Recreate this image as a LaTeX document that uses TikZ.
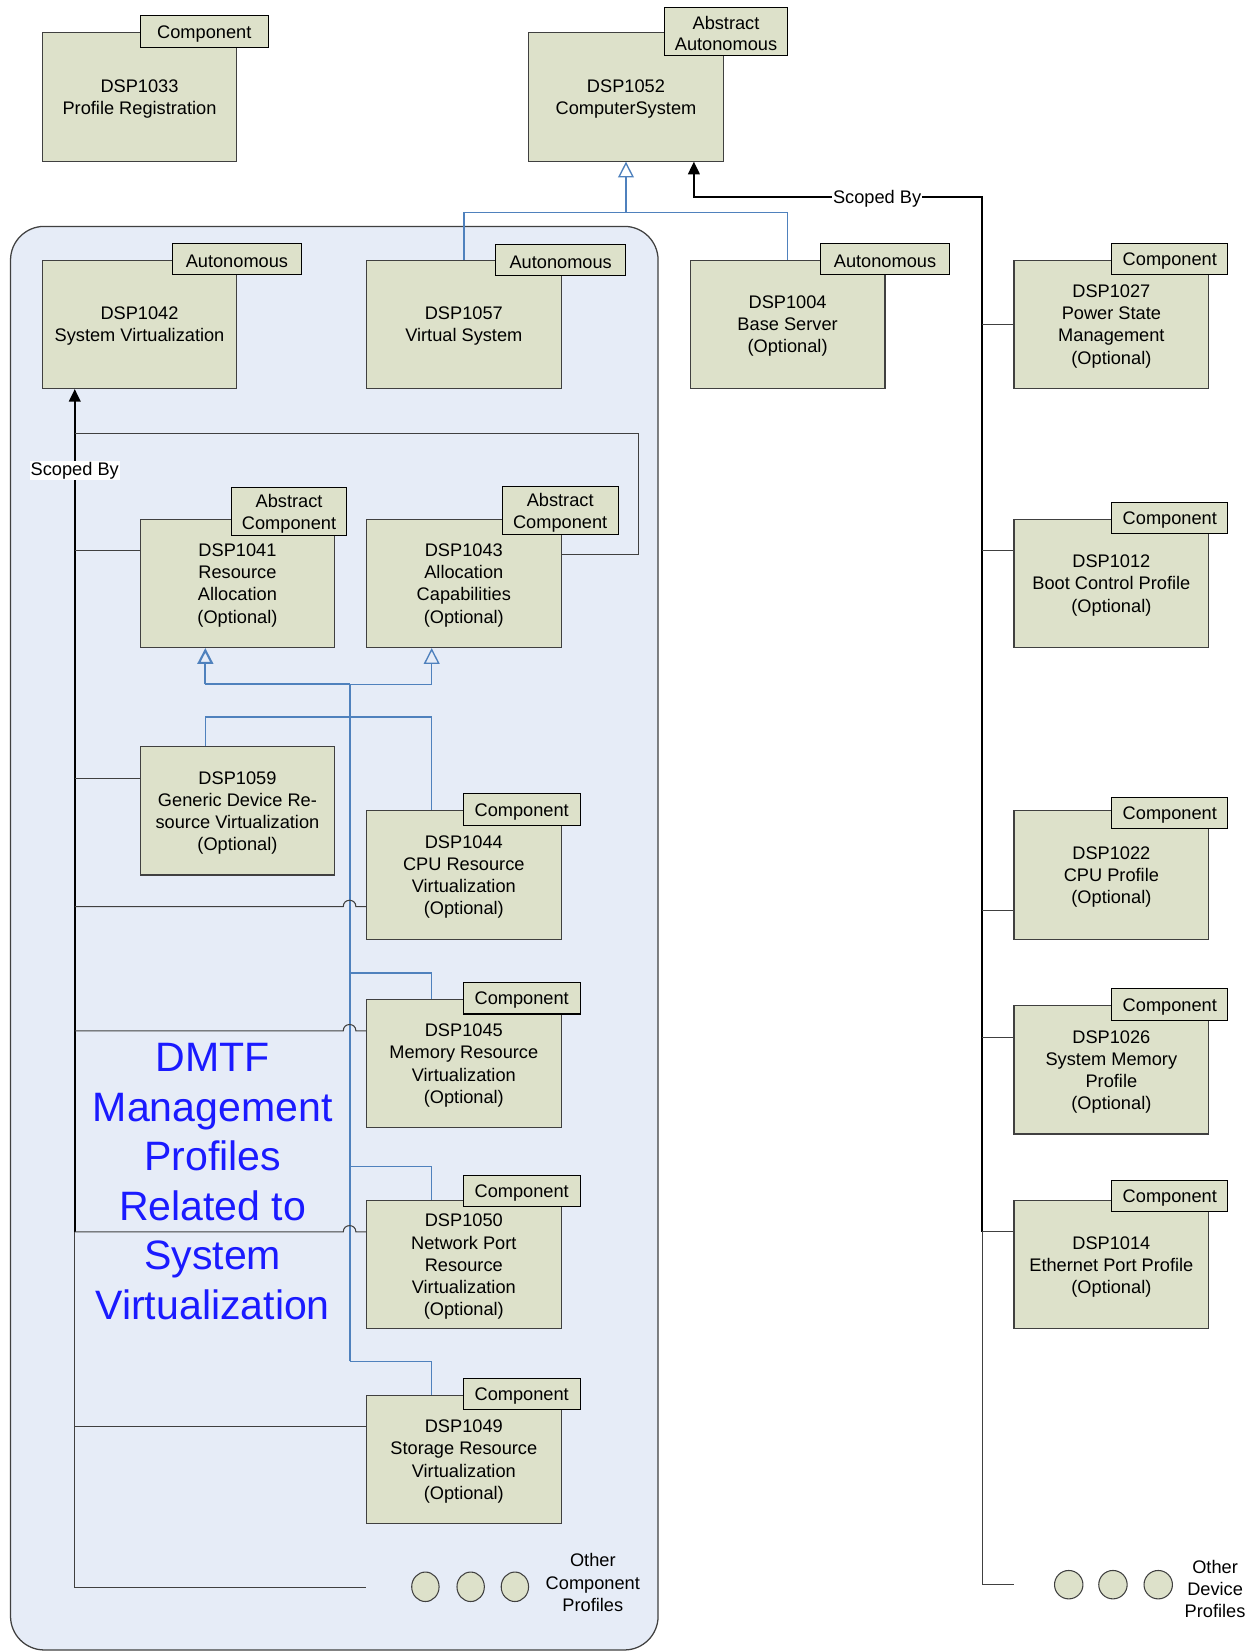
\documentclass[tikz,border=0pt]{standalone}
\usepackage{fontspec}
\setmainfont{Liberation Sans}
\usetikzlibrary{arrows.meta,shapes.geometric,backgrounds}
\definecolor{boxfill}{HTML}{DDE1CA}
\definecolor{contfill}{HTML}{E6ECF7}
\definecolor{inhblue}{HTML}{4F81BD}
\definecolor{bigblue}{HTML}{1A1AFF}
\definecolor{edgegray}{HTML}{404040}
\begin{document}
\begin{tikzpicture}[x=1pt,y=-1pt,
  profbox/.style={draw=edgegray, fill=boxfill, line width=1pt, minimum width=185pt, minimum height=122pt, inner sep=0pt},
  boxtext/.style={inner sep=0pt, align=center, font=\fontsize{17.3}{21}\selectfont, yshift=-2pt},
  tagbox/.style={draw=black, fill=boxfill, line width=1pt, inner sep=0pt, minimum height=30pt, minimum width=#1},
  tagtwo/.style={tagbox=#1, minimum height=46pt},
  tagtext/.style={inner sep=0pt, align=center, font=\fontsize{17.3}{20.5}\selectfont, yshift=-2pt},
  dotnode/.style={ellipse, draw=edgegray, fill=boxfill, line width=1pt, minimum width=26pt, minimum height=28pt, inner sep=0pt},
  lbl/.style={fill=white, inner sep=1pt, font=\fontsize{17.3}{21}\selectfont},
  plain/.style={inner sep=0pt, align=center, font=\fontsize{17.3}{21}\selectfont, yshift=-1pt},
  inh/.style={draw=inhblue, line width=1.3pt},
  inharrow/.style={inh, -{Triangle[open, length=15pt, width=15pt]}},
  scopeline/.style={draw=black, line width=2pt},
  scopearrow/.style={scopeline, -{Triangle[length=12pt, width=11pt]}},
  branch/.style={draw=edgegray, line width=1pt}
]
\useasboundingbox (0,0) rectangle (1192,1568);

% ---- boxes
\node[profbox] (b1033) at (132.5,92) {};
\node[boxtext] (x1033) at (b1033) {DSP1033\\Profile Registration};
\node[profbox] (b1052) at (594.5,92) {};
\node[boxtext] (x1052) at (b1052) {DSP1052\\ComputerSystem};
\node[profbox] (b1042) at (132.5,308) {};
\node[boxtext] (x1042) at (b1042) {DSP1042\\System Virtualization};
\node[profbox] (b1057) at (440.5,308) {};
\node[boxtext] (x1057) at (b1057) {DSP1057\\Virtual System};
\node[profbox] (b1004) at (748,308) {};
\node[boxtext] (x1004) at (b1004) {DSP1004\\Base Server\\(Optional)};
\node[profbox] (b1027) at (1055.5,308) {};
\node[boxtext] (x1027) at (b1027) {DSP1027\\Power State\\Management\\(Optional)};
\node[profbox] (b1012) at (1055.5,554) {};
\node[boxtext] (x1012) at (b1012) {DSP1012\\Boot Control Profile\\(Optional)};
\node[profbox] (b1022) at (1055.5,831) {};
\node[boxtext] (x1022) at (b1022) {DSP1022\\CPU Profile\\(Optional)};
\node[profbox] (b1026) at (1055.5,1016) {};
\node[boxtext] (x1026) at (b1026) {DSP1026\\System Memory\\Profile\\(Optional)};
\node[profbox] (b1014) at (1055.5,1201) {};
\node[boxtext] (x1014) at (b1014) {DSP1014\\Ethernet Port Profile\\(Optional)};
\node[profbox] (b1041) at (225.5,554) {};
\node[boxtext] (x1041) at (b1041) {DSP1041\\Resource\\Allocation\\(Optional)};
\node[profbox] (b1043) at (440.5,554) {};
\node[boxtext] (x1043) at (b1043) {DSP1043\\Allocation\\Capabilities\\(Optional)};
\node[profbox] (b1059) at (225.5,770) {};
\node[boxtext] (x1059) at (b1059) {DSP1059\\Generic Device Re-\\source Virtualization\\(Optional)};
\node[profbox] (b1044) at (440.5,831) {};
\node[boxtext] (x1044) at (b1044) {DSP1044\\CPU Resource\\Virtualization\\(Optional)};
\node[profbox] (b1045) at (440.5,1010) {};
\node[boxtext] (x1045) at (b1045) {DSP1045\\Memory Resource\\Virtualization\\(Optional)};
\node[profbox] (b1050) at (440.5,1201) {};
\node[boxtext] (x1050) at (b1050) {DSP1050\\Network Port\\Resource\\Virtualization\\(Optional)};
\node[profbox] (b1049) at (440.5,1386) {};
\node[boxtext] (x1049) at (b1049) {DSP1049\\Storage Resource\\Virtualization\\(Optional)};

% ---- tags
\node[tagbox=122pt] (t1033) at (194,30) {};
\node[tagtext] (u1033) at (t1033) {Component};
\node[tagtwo=117pt] (t1052) at (689.5,30) {};
\node[tagtext] (u1052) at (t1052) {Abstract\\Autonomous};
\node[tagbox=122pt] (t1042) at (225,246) {};
\node[tagtext] (u1042) at (t1042) {Autonomous};
\node[tagbox=123pt] (t1057) at (532.5,247) {};
\node[tagtext] (u1057) at (t1057) {Autonomous};
\node[tagbox=123pt] (t1004) at (840.5,246) {};
\node[tagtext] (u1004) at (t1004) {Autonomous};
\node[tagbox=110pt] (t1027) at (1111,246) {};
\node[tagtext] (u1027) at (t1027) {Component};
\node[tagbox=110pt] (t1012) at (1111,492) {};
\node[tagtext] (u1012) at (t1012) {Component};
\node[tagbox=110pt] (t1022) at (1111,772) {};
\node[tagtext] (u1022) at (t1022) {Component};
\node[tagbox=110pt] (t1026) at (1111,954) {};
\node[tagtext] (u1026) at (t1026) {Component};
\node[tagbox=110pt] (t1014) at (1111,1136) {};
\node[tagtext] (u1014) at (t1014) {Component};
\node[tagtwo=109pt] (t1041) at (274.5,486) {};
\node[tagtext] (u1041) at (t1041) {Abstract\\Component};
\node[tagtwo=110pt] (t1043) at (532,485) {};
\node[tagtext] (u1043) at (t1043) {Abstract\\Component};
\node[tagbox=111pt] (t1044) at (495.5,769) {};
\node[tagtext] (u1044) at (t1044) {Component};
\node[tagbox=111pt] (t1045) at (495.5,948) {};
\node[tagtext] (u1045) at (t1045) {Component};
\node[tagbox=111pt] (t1050) at (495.5,1131) {};
\node[tagtext] (u1050) at (t1050) {Component};
\node[tagbox=111pt] (t1049) at (495.5,1324) {};
\node[tagtext] (u1049) at (t1049) {Component};

% ---- other profiles
\node[dotnode] (oc1) at (404,1507) {};
\node[dotnode] (oc2) at (447,1507) {};
\node[dotnode] (oc3) at (489,1507) {};
\node[plain] (ocl) at (563,1502) {Other\\Component\\Profiles};
\node[dotnode, minimum width=27pt, minimum height=27pt] (od1) at (1015,1505) {};
\node[dotnode, minimum width=27pt, minimum height=27pt] (od2) at (1057,1505) {};
\node[dotnode, minimum width=27pt, minimum height=27pt] (od3) at (1100,1505) {};
\node[plain] (odl) at (1154,1508) {Other\\Device\\Profiles};

\begin{scope}[on background layer]
% container
\draw[draw=edgegray, fill=contfill, line width=1.2pt, rounded corners=32pt] (10,215) rectangle (625,1567);

% big caption
\node[inner sep=0pt, align=center, text=bigblue, font=\fontsize{39}{47}\selectfont] (caption) at (202,1122) {DMTF\\Management\\Profiles\\Related to\\System\\Virtualization};

% ---- inheritance (blue)
\coordinate (jt) at (594.5,202);
\draw[inh] (b1057.north) |- (jt);
\draw[inh] (b1004.north) |- (jt);
\draw[inharrow] (jt) -- (b1052.south);

\coordinate (h1) at (195,650);
\coordinate (h2) at (410,650);
\coordinate (sp1) at (332,650);
\coordinate (sp2) at (332,1293);
\coordinate (g1) at (195,681);
\coordinate (g2) at (410,681);
\coordinate (s45) at (332,924);
\coordinate (s50) at (332,1108);
\draw[inh, line width=2pt] (sp1) -- (sp2);
\draw[inh, line width=2pt] (h1) -- (sp1);
\draw[inh] (sp1) -- (h2);
\draw[inharrow, line width=2pt] (h1) -- (h1 |- b1041.south);
\draw[inharrow] (h2) -- (h2 |- b1043.south);
\draw[inh] (g1 |- b1059.north) -- (g1) -- (g2) -- (g2 |- b1044.north);
\draw[inh] (s45) -| (g2 |- b1045.north);
\draw[inh] (s50) -| (g2 |- b1050.north);
\draw[inh] (sp2) -| (g2 |- b1049.north);

% ---- scoped by (left, inside container)
\coordinate (q1) at (71,412);
\coordinate (q2) at (606,527);
\coordinate (pa) at (71,523);
\coordinate (pb) at (71,739);
\coordinate (pc) at (71,861);
\coordinate (pd) at (71,979);
\coordinate (pe) at (71,1170);
\coordinate (pf) at (71,1355);
\coordinate (pg) at (71,1508);
\coordinate (pgend) at (348,1508);
\draw[scopearrow] (pe) -- (pe |- b1042.south);
\draw[branch] (pe) -- (pg) -- (pgend);
\draw[branch] (q1) -| (q2) -- (q2 -| b1043.east);
\draw[branch] (pa) -- (pa -| b1041.west);
\draw[branch] (pb) -- (pb -| b1059.west);
\draw[branch] (pc) -- (326,861) .. controls (326,853) and (338,853) .. (338,861) -- (pc -| b1044.west);
\draw[branch] (pd) -- (326,979) .. controls (326,971) and (338,971) .. (338,979) -- (pd -| b1045.west);
\draw[branch] (pe) -- (326,1170) .. controls (326,1162) and (338,1162) .. (338,1170) -- (pe -| b1050.west);
\draw[branch] (pf) -- (pf -| b1049.west);

% ---- scoped by (right)
\coordinate (R) at (933,187);
\coordinate (r0) at (659,187);
\coordinate (ra) at (933,308);
\coordinate (rb) at (933,523);
\coordinate (rc) at (933,865);
\coordinate (rd) at (933,985);
\coordinate (re) at (933,1170);
\coordinate (rf) at (933,1505);
\coordinate (rfend) at (963,1505);
\draw[scopearrow] (re) -- (R) -- (r0) -- (r0 |- b1052.south);
\draw[branch] (re) -- (rf) -- (rfend);
\draw[branch] (ra) -- (ra -| b1027.west);
\draw[branch] (rb) -- (rb -| b1012.west);
\draw[branch] (rc) -- (rc -| b1022.west);
\draw[branch] (rd) -- (rd -| b1026.west);
\draw[branch] (re) -- (re -| b1014.west);

% ---- labels
\node[lbl, yshift=-2pt] (sbtop) at (833,187) {Scoped By};
\node[lbl, yshift=-1pt] (sbleft) at (71,446) {Scoped By};
\end{scope}
\end{tikzpicture}
\end{document}
